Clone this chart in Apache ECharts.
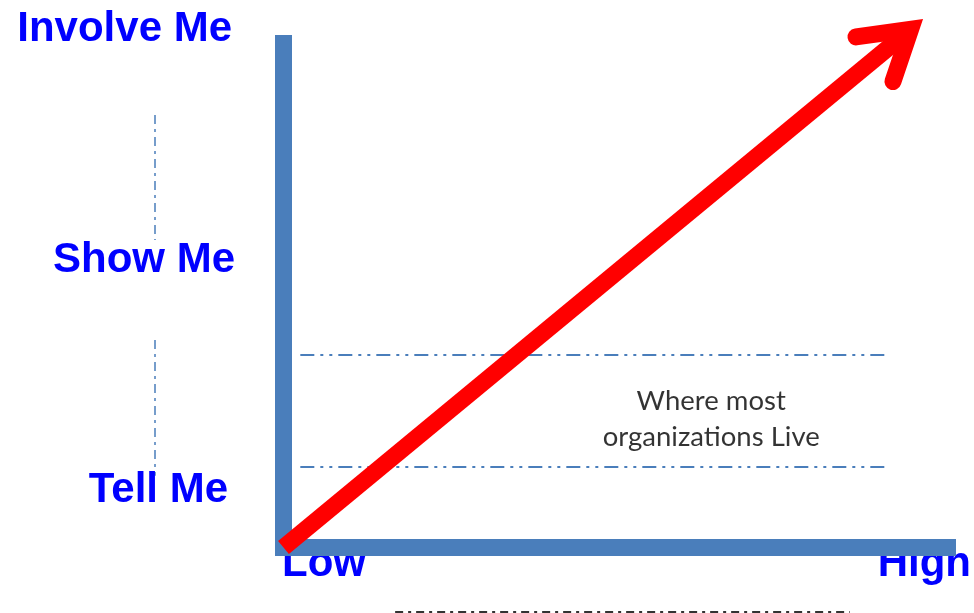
<!DOCTYPE html>
<html><head><meta charset="utf-8">
<script src="https://cdn.jsdelivr.net/npm/echarts@6/dist/echarts.min.js"></script>
<style>html,body{margin:0;padding:0;background:#fff}#c{width:974px;height:613px}</style>
</head><body><div id="c"></div>
<script>
// ---- data (diagram space: x 0..100 = Low..High frame, y 0..100 = frame height) ----
var levels = ['Tell Me', 'Show Me', 'Involve Me'];
var scaleLabels = ['Low', 'High'];
var framePath = [[0, 100], [0, 0], [100, 0]];
var arrowFrom = [0, 0];
var arrowTo = [95.1, 103.1];
var bandLevels = [15.7, 37.6];
var bandSpan = [2.5, 89.6];
var bandText = ['Where most', 'organizations Live'];
var bandTextAt = [63.6, 25.1];
var separatorX = -19.1;
var separatorSpans = [[84.4, 60], [40.5, 14]];
var footY = -12.5;
var footSpan = [16.6, 84.2];

var BAR = '#4A7EBB', RED = '#FF0000', TXT = '#0000FF';
var labelFont = { fontFamily: 'Liberation Sans, Arial, sans-serif', fontWeight: 'bold', fontSize: 42, color: TXT };

function merge(a, b) { var o = {}; for (var k in a) o[k] = a[k]; for (var k2 in b) o[k2] = b[k2]; return o; }

var dashedData = [];
bandLevels.forEach(function (y) {
  dashedData.push({ coords: [[bandSpan[0], y], [bandSpan[1], y]], lineStyle: { color: BAR, width: 2, type: [14, 6, 3, 6, 3, 6], opacity: 1 } });
});
separatorSpans.forEach(function (s) {
  dashedData.push({ coords: [[separatorX, s[0]], [separatorX, s[1]]], lineStyle: { color: BAR, width: 1.5, type: [9, 5, 3, 5], opacity: 1 } });
});
dashedData.push({ coords: [[footSpan[0], footY], [footSpan[1], footY]], lineStyle: { color: '#333', width: 2, type: [8, 5, 3, 5], opacity: 1 } });

var levelRich = {
  t: merge(labelFont, { padding: [0, 7, 0, 0] }),
  s: merge(labelFont, { padding: [0, 0, 0, 0] }),
  i: merge(labelFont, { padding: [0, 3, 0, 0] })
};
var levelKey = { 'Tell Me': 't', 'Show Me': 's', 'Involve Me': 'i' };

var chart = echarts.init(document.getElementById('c'), null, { renderer: 'canvas' });
var option = {
  animation: false,
  backgroundColor: '#ffffff',
  grid: [
    { left: 283.5, top: 35, width: 672.5, height: 512.5 },
    { left: 240, top: 29.5, width: 40, height: 461 },
    { left: 324, right: 49, top: 100, bottom: 73 }
  ],
  xAxis: [
    { gridIndex: 0, type: 'value', min: 0, max: 100, show: false },
    { gridIndex: 1, type: 'value', show: false },
    { gridIndex: 2, type: 'category', data: scaleLabels, boundaryGap: false,
      axisLine: { show: false }, axisTick: { show: false }, splitLine: { show: false },
      axisLabel: merge({ interval: 0, margin: 24, verticalAlign: 'middle' }, labelFont) }
  ],
  yAxis: [
    { gridIndex: 0, type: 'value', min: 0, max: 100, show: false },
    { gridIndex: 1, type: 'category', data: levels, boundaryGap: false,
      axisLine: { show: false }, axisTick: { show: false }, splitLine: { show: false },
      axisLabel: merge({ interval: 0, margin: 5, align: 'right', rich: levelRich,
        formatter: function (v) { return '{' + levelKey[v] + '|' + v + '}'; } }, labelFont) },
    { gridIndex: 2, type: 'value', show: false }
  ],
  series: [
    { type: 'lines', coordinateSystem: 'cartesian2d', xAxisIndex: 0, yAxisIndex: 0,
      z: -1, clip: false, silent: true, data: dashedData },
    { type: 'line', xAxisIndex: 0, yAxisIndex: 0, data: framePath, symbol: 'none', clip: false, z: 2, silent: true,
      lineStyle: { color: BAR, width: 17, cap: 'butt', join: 'miter' } },
    { type: 'custom', xAxisIndex: 0, yAxisIndex: 0, clip: false, z: 3, silent: true,
      encode: { x: [0, 2], y: [1, 3] },
      data: [[arrowFrom[0], arrowFrom[1], arrowTo[0], arrowTo[1]]],
      renderItem: function (params, api) {
        var p0 = api.coord([api.value(0), api.value(1)]);
        var p1 = api.coord([api.value(2), api.value(3)]);
        var dx = p1[0] - p0[0], dy = p1[1] - p0[1], len = Math.sqrt(dx * dx + dy * dy);
        var ux = dx / len, uy = dy / len, nx = -uy, ny = ux;
        var W = 17, HL = 63, HW = 29, d = 15;
        for (var i = 0; i < 30; i++) { var phi = Math.atan(HW / (HL - d)); d = (W / 2) / Math.sin(phi); }
        var t = [p1[0] - ux * d, p1[1] - uy * d];
        var b1 = [p1[0] - ux * HL + nx * HW, p1[1] - uy * HL + ny * HW];
        var b2 = [p1[0] - ux * HL - nx * HW, p1[1] - uy * HL - ny * HW];
        return { type: 'group', children: [
          { type: 'polyline', shape: { points: [p0, t] }, style: { stroke: RED, lineWidth: W, fill: null, lineCap: 'butt' } },
          { type: 'polyline', shape: { points: [b1, t, b2] }, style: { stroke: RED, lineWidth: W, fill: null, lineCap: 'round', lineJoin: 'miter' } }
        ] };
      } },
    { type: 'scatter', xAxisIndex: 0, yAxisIndex: 0, data: [bandTextAt], symbolSize: 1, z: 2, silent: true,
      itemStyle: { color: 'rgba(0,0,0,0)' },
      label: { show: true, position: 'inside', formatter: bandText.join('\n'),
        fontFamily: 'Lato, sans-serif', fontSize: 27.5, lineHeight: 36, color: '#000', align: 'center' } }
  ]
};
chart.setOption(option);
</script></body></html>
